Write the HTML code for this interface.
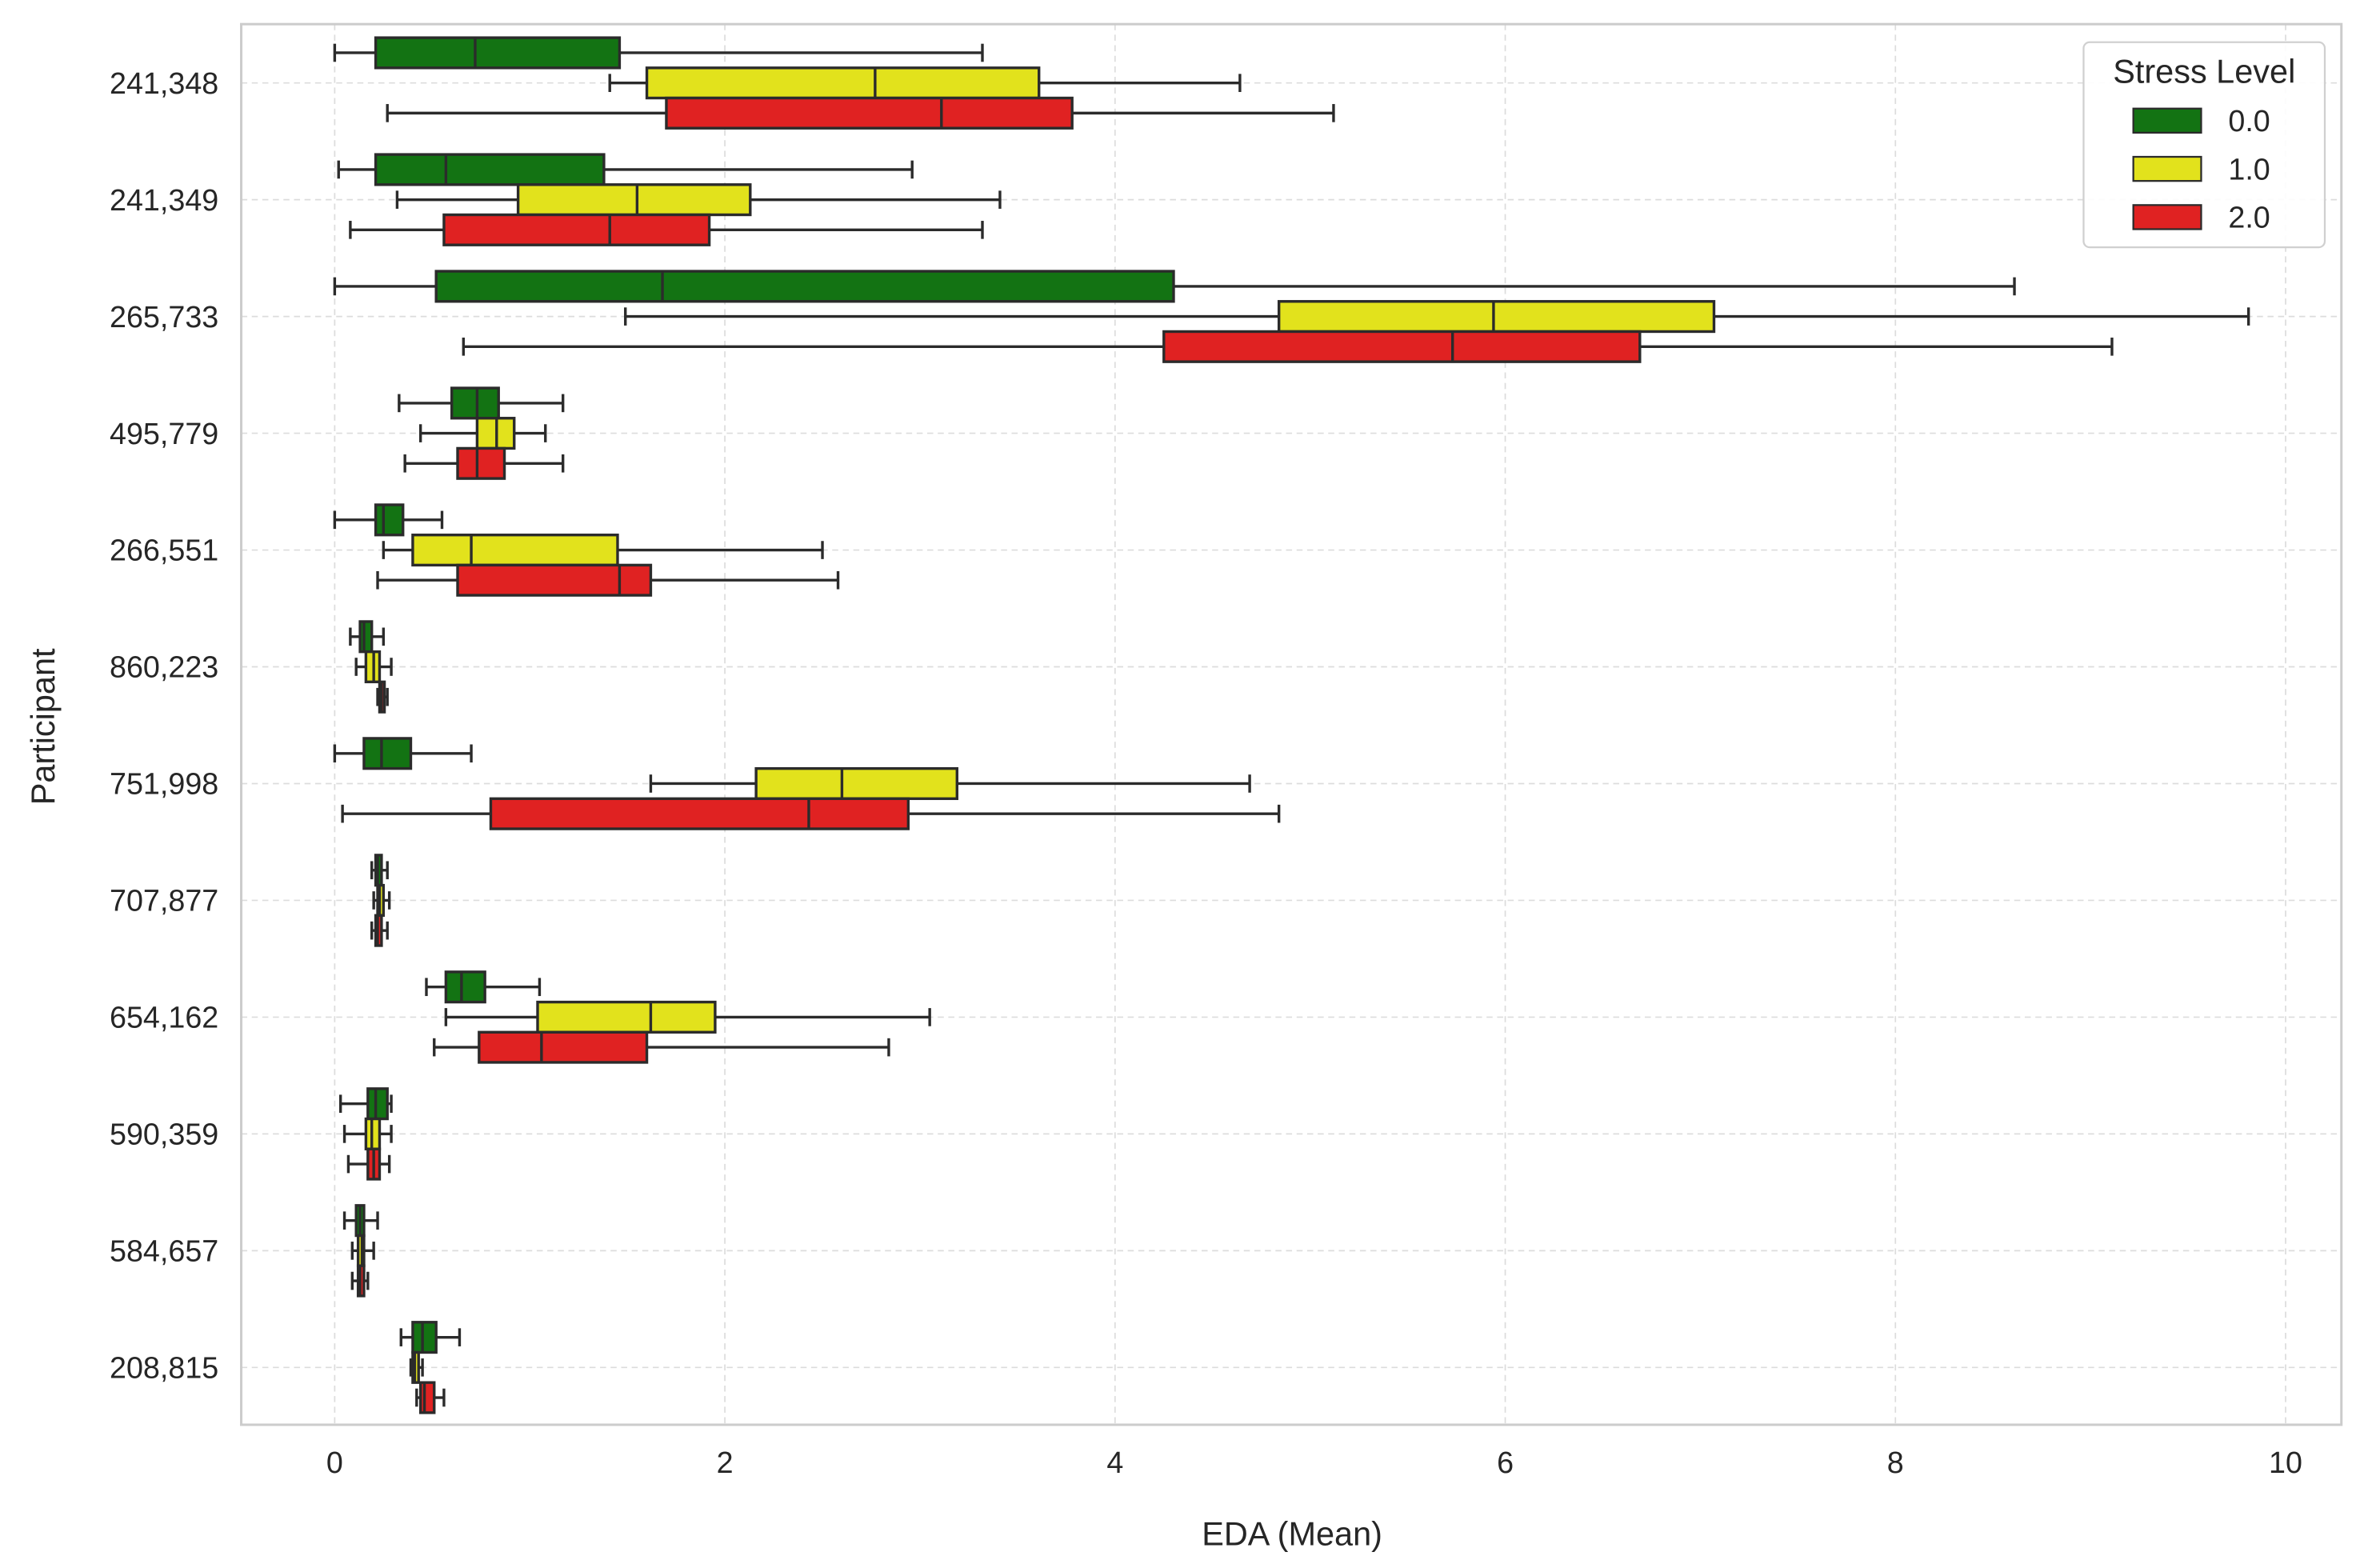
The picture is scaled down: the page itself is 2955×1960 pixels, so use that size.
<!DOCTYPE html>
<html><head><meta charset="utf-8"><style>
html,body{margin:0;padding:0;background:#fff;}
svg{display:block;font-family:"Liberation Sans",Arial,sans-serif;}
</style></head><body>
<svg id="chart" width="2955" height="1960" viewBox="0 0 1568 1040" xmlns="http://www.w3.org/2000/svg">
<rect x="0" y="0" width="1568" height="1040" fill="#fff"/>
<g id="grid"></g>
<g id="boxes"></g>
<rect x="160" y="16" width="1393" height="929" fill="none" stroke="#cccccc" stroke-width="1.6"/>
<g id="ticks"></g>
<text x="857" y="1025" font-size="22" fill="#262626" text-anchor="middle">EDA (Mean)</text>
<text x="36" y="482" font-size="22" fill="#262626" text-anchor="middle" transform="rotate(-90 36 482)">Participant</text>
<g>
<rect x="1382" y="28" width="160" height="136" rx="4" fill="#fff" fill-opacity="0.9" stroke="#d0d0d0" stroke-width="1.2"/>
<text x="1462" y="55" font-size="22" fill="#262626" text-anchor="middle">Stress Level</text>
<g id="legend-entries"></g>
</g>
</svg>
<script>
const categories = ["241,348","241,349","265,733","495,779","266,551","860,223","751,998","707,877","654,162","590,359","584,657","208,815"];
const levels = ["0.0","1.0","2.0"];
const xTicks = [0,2,4,6,8,10];
// each entry: [whiskerLow, q1, median, q3, whiskerHigh]
const level0 = [[0,0.21,0.72,1.46,3.32],[0.02,0.21,0.57,1.38,2.96],[0,0.52,1.68,4.30,8.61],[0.33,0.60,0.73,0.84,1.17],[0,0.21,0.25,0.35,0.55],[0.08,0.13,0.15,0.19,0.25],[0,0.15,0.24,0.39,0.70],[0.19,0.21,0.22,0.24,0.27],[0.47,0.57,0.65,0.77,1.05],[0.03,0.17,0.21,0.27,0.29],[0.05,0.11,0.13,0.15,0.22],[0.34,0.40,0.45,0.52,0.64]];
const level1 = [[1.41,1.60,2.77,3.61,4.64],[0.32,0.94,1.55,2.13,3.41],[1.49,4.84,5.94,7.07,9.81],[0.44,0.73,0.83,0.92,1.08],[0.25,0.40,0.70,1.45,2.50],[0.11,0.16,0.20,0.23,0.29],[1.62,2.16,2.60,3.19,4.69],[0.20,0.22,0.23,0.25,0.28],[0.57,1.04,1.62,1.95,3.05],[0.05,0.16,0.19,0.23,0.29],[0.09,0.12,0.14,0.15,0.20],[0.39,0.40,0.41,0.43,0.45]];
const level2 = [[0.27,1.70,3.11,3.78,5.12],[0.08,0.56,1.41,1.92,3.32],[0.66,4.25,5.73,6.69,9.11],[0.36,0.63,0.73,0.87,1.17],[0.22,0.63,1.46,1.62,2.58],[0.22,0.23,0.24,0.255,0.27],[0.04,0.80,2.43,2.94,4.84],[0.19,0.21,0.22,0.24,0.27],[0.51,0.74,1.06,1.60,2.84],[0.07,0.17,0.20,0.23,0.28],[0.09,0.12,0.13,0.15,0.17],[0.42,0.44,0.46,0.51,0.56]];
const series = [level0, level1, level2];
const colors = ["#137313","#e2e21c","#e02222"];

const NS = "http://www.w3.org/2000/svg";
const X0 = 222, X1 = 1516, Y0 = 55, Y1 = 907;
function xScale(v){ return X0 + v*(X1-X0)/10; }
function yScale(i){ return Y0 + i*(Y1-Y0)/(categories.length-1); }
function mk(tag, attrs, parent){ const e=document.createElementNS(NS,tag); for(const k in attrs) e.setAttribute(k,attrs[k]); parent.appendChild(e); return e; }

const grid=document.getElementById('grid'), ticks=document.getElementById('ticks'), boxes=document.getElementById('boxes');
xTicks.forEach(t=>{
  const l=mk('line',{x1:xScale(t),x2:xScale(t),y1:16,y2:945,stroke:'#dcdcdc','stroke-width':0.9,'stroke-dasharray':'4 3'},grid);
  
  
  const tx=mk('text',{x:xScale(t),y:977,'font-size':20,fill:'#262626','text-anchor':'middle'},ticks);
  tx.textContent=t;
  
  
});
categories.forEach((c,i)=>{
  const l=mk('line',{x1:160,x2:1553,y1:yScale(i),y2:yScale(i),stroke:'#dcdcdc','stroke-width':0.9,'stroke-dasharray':'4 3'},grid);
  
  
  const tx=mk('text',{x:145,y:yScale(i)+7,'font-size':20,fill:'#262626','text-anchor':'end'},ticks);
  tx.textContent=c;
  
  
});
const EDGE='#2b2b2b', BH=20, CAP=6;
series.forEach((ser,s)=>{
  ser.forEach((d,i)=>{
    const yc=yScale(i)+(s-1)*BH;
    const g=mk('g',{},boxes);
    
    
    const lo=xScale(d[0]),q1=xScale(d[1]),md=xScale(d[2]),q3=xScale(d[3]),hi=xScale(d[4]);
    mk('line',{x1:lo,x2:q1,y1:yc,y2:yc,stroke:EDGE,'stroke-width':1.8},g);
    mk('line',{x1:q3,x2:hi,y1:yc,y2:yc,stroke:EDGE,'stroke-width':1.8},g);
    mk('line',{x1:lo,x2:lo,y1:yc-CAP,y2:yc+CAP,stroke:EDGE,'stroke-width':1.8},g);
    mk('line',{x1:hi,x2:hi,y1:yc-CAP,y2:yc+CAP,stroke:EDGE,'stroke-width':1.8},g);
    mk('rect',{x:q1,y:yc-BH/2,width:Math.max(q3-q1,0.5),height:BH,fill:colors[s],stroke:EDGE,'stroke-width':1.8},g);
    mk('line',{x1:md,x2:md,y1:yc-BH/2,y2:yc+BH/2,stroke:EDGE,'stroke-width':1.8},g);
  });
});
const le=document.getElementById('legend-entries');
levels.forEach((lv,k)=>{
  const y=80+k*32;
  const r=mk('rect',{x:1415,y:y-8,width:45,height:16,fill:colors[k],stroke:EDGE,'stroke-width':1.2},le);
  
  
  const t=mk('text',{x:1478,y:y+7,'font-size':20,fill:'#262626'},le);
  t.textContent=lv;
  
  
});
</script>
</body></html>
